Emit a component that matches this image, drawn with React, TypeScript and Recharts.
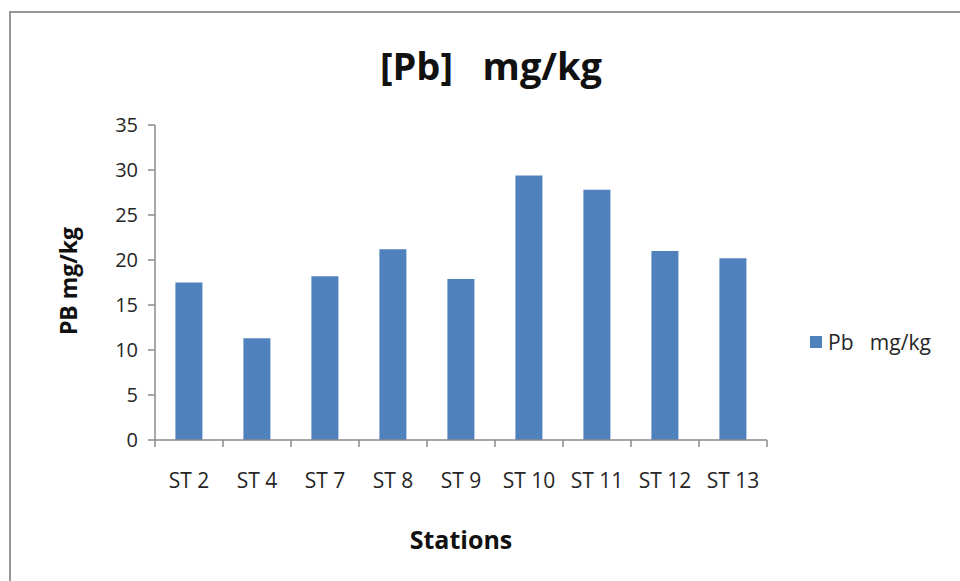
import { BarChart, Bar, XAxis, YAxis } from "recharts";

const stations = ["ST 2", "ST 4", "ST 7", "ST 8", "ST 9", "ST 10", "ST 11", "ST 12", "ST 13"];
const pbValues = [17.5, 11.3, 18.2, 21.2, 17.9, 29.4, 27.8, 21.0, 20.2];
const yTicks = [0, 5, 10, 15, 20, 25, 30, 35];
const seriesName = "Pb   mg/kg";

const data = stations.map((name, i) => ({ name, pb: pbValues[i] }));

const FONT = "'Open Sans', 'Noto Sans', sans-serif";
const AXIS = "#8a8a8a";
const BAR = "#4F81BD";
const PLOT_LEFT = 155;
const PLOT_RIGHT = 767;
const BAND = (PLOT_RIGHT - PLOT_LEFT) / stations.length;

// excel style: labels at center, tick marks between categories
function StationTick(props: any) {
  const { x, y, payload, index } = props;
  const left = x - BAND / 2;
  return (
    <g>
      <line x1={left} y1={y - 8} x2={left} y2={y - 1} stroke={AXIS} strokeWidth={1.5} />
      {index === stations.length - 1 && (
        <line x1={x + BAND / 2} y1={y - 8} x2={x + BAND / 2} y2={y - 1} stroke={AXIS} strokeWidth={1.5} />
      )}
      <text x={x} y={y + 40} textAnchor="middle" fontSize={21} fill="#262626" fontFamily={FONT}>
        {payload.value}
      </text>
    </g>
  );
}

export default function App() {
  return (
    <div style={{ position: "absolute", left: 0, top: 0, width: 960, height: 581, background: "#fff", overflow: "hidden", fontFamily: FONT }}>
      <div style={{ position: "absolute", left: 9, top: 11, width: 1000, height: 700, border: "2px solid #959595" }} />
      <div style={{ position: "absolute", left: 491, top: 65, transform: "translate(-50%, -50%)", fontSize: 38, fontWeight: 700, color: "#111", whiteSpace: "pre" }}>
        {"[Pb]   mg/kg"}
      </div>
      <div style={{ position: "absolute", left: 68, top: 281, transform: "translate(-50%, -50%) rotate(-90deg)", fontSize: 23, fontWeight: 700, color: "#111", whiteSpace: "nowrap" }}>
        PB mg/kg
      </div>
      <div style={{ position: "absolute", left: 461, top: 539, transform: "translate(-50%, -50%)", fontSize: 25, fontWeight: 700, color: "#111" }}>
        Stations
      </div>
      <div style={{ position: "absolute", left: 810, top: 342, transform: "translateY(-50%)", display: "flex", alignItems: "center", fontSize: 21, color: "#262626", whiteSpace: "pre" }}>
        <span style={{ display: "inline-block", width: 12, height: 12, background: BAR, marginRight: 6 }} />
        <span>{seriesName}</span>
      </div>
      <BarChart
        width={960}
        height={581}
        data={data}
        margin={{ top: 125, right: 960 - PLOT_RIGHT, left: 55, bottom: 81 }}
        barCategoryGap="30%"
      >
        <XAxis
          dataKey="name"
          height={60}
          interval={0}
          axisLine={{ stroke: AXIS, strokeWidth: 1.5 }}
          tickLine={false}
          tick={<StationTick />}
        />
        <YAxis
          width={100}
          domain={[0, 35]}
          ticks={yTicks}
          axisLine={{ stroke: AXIS, strokeWidth: 1.5 }}
          tickLine={{ stroke: AXIS, strokeWidth: 1.5 }}
          tickSize={7}
          tickMargin={10}
          tick={{ fontSize: 20, fill: "#262626", fontFamily: FONT }}
        />
        <Bar dataKey="pb" name={seriesName} fill={BAR} isAnimationActive={false} />
      </BarChart>
    </div>
  );
}
